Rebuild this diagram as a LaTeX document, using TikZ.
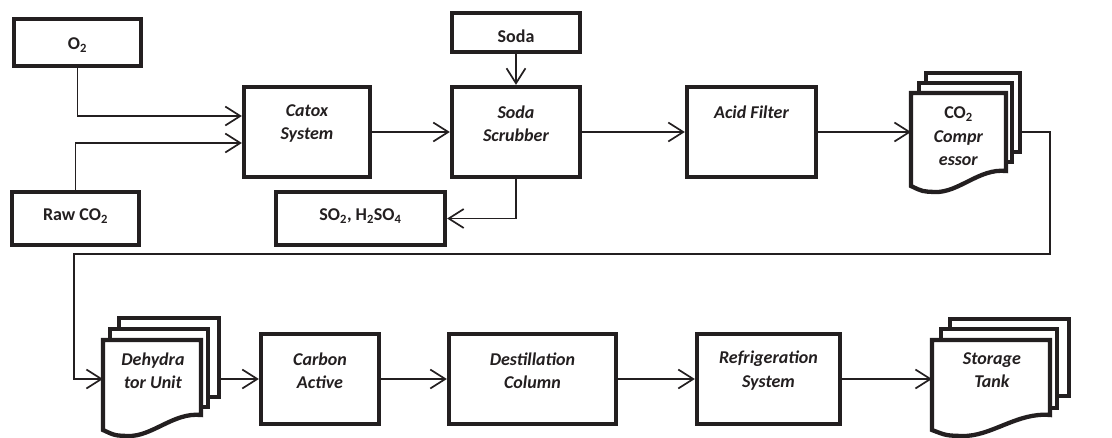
\documentclass[tikz,border=0pt]{standalone}
\usepackage{fontspec}
\setmainfont{Carlito}
\usetikzlibrary{arrows.meta}
\definecolor{ink}{HTML}{231F20}
\newcommand\docpage[4]{%
  \filldraw[docline] (#1,#2) -- (#1+#3,#2) -- (#1+#3,#2+#4)
    .. controls (#1+0.72*#3,#2+#4-3) and (#1+0.5*#3,#2+#4+22) .. (#1+0.25*#3,#2+#4+21)
    .. controls (#1+0.12*#3,#2+#4+20.5) .. (#1,#2+#4+15) -- cycle;}
\newcommand\backpage[4]{\filldraw[docline] (#1,#2) rectangle (#3,#4);}
\begin{document}
\begin{tikzpicture}[x=1pt,y=-1pt,
  box/.style={draw=ink,line width=4.3pt,fill=white,inner sep=0pt},
  docline/.style={draw=ink,fill=white,line width=4.3pt,line join=miter},
  lbl/.style={text=ink,align=center,inner sep=0pt,font=\fontsize{18}{23.5}\selectfont\bfseries},
  ilbl/.style={lbl,font=\fontsize{18}{23.5}\selectfont\bfseries\itshape},
  conn/.style={draw=ink,line width=1.7pt,-{Straight Barb[length=15pt,width=19pt,line width=1.7pt]}},
  plain/.style={draw=ink,line width=1.7pt}]
\useasboundingbox (0,0) rectangle (1112,437);

% top row boxes
\node[box,minimum width=127pt,minimum height=47pt] (o2) at (77.5,42.5) {};
\node[lbl] (o2t) at (77.5,45) {O\textsubscript{2}};
\node[box,minimum width=127pt,minimum height=53pt] (raw) at (75.5,218.5) {};
\node[lbl] (rawt) at (75.5,216) {Raw CO\textsubscript{2}};
\node[box,minimum width=126pt,minimum height=90pt] (catox) at (307,132) {};
\node[ilbl] (catoxt) at (307,123.5) {Catox\\System};
\node[box,minimum width=169pt,minimum height=53pt] (so2) at (360.5,218.5) {};
\node[lbl] (so2t) at (360.5,216) {SO\textsubscript{2}, H\textsubscript{2}SO\textsubscript{4}};
\node[box,minimum width=128pt,minimum height=39pt] (soda) at (516,32.5) {};
\node[lbl] (sodat) at (516,36) {Soda};
\node[box,minimum width=128pt,minimum height=90pt] (scrub) at (516,132) {};
\node[ilbl] (scrubt) at (516,123.5) {Soda\\Scrubber};
\node[box,minimum width=129pt,minimum height=90pt] (acid) at (751.5,132) {};
\node[ilbl] (acidt) at (751.5,112) {Acid Filter};

% CO2 compressor (multi-document)
\backpage{926}{73}{1020}{152}
\backpage{919}{83}{1012}{162}
\docpage{911}{93}{95}{78}
\node[lbl] (comp) at (958.5,136.5) {CO\textsubscript{2}\\\textit{Compr}\\\textit{essor}};
\coordinate (compin) at (911,132);
\coordinate (compout) at (1020,132);

% bottom row
\backpage{119}{318}{219}{397}
\backpage{110}{329}{208}{407}
\docpage{103}{340}{98}{75}
\node[ilbl] (deh) at (153,370.5) {Dehydra\\tor Unit};
\coordinate (dehin) at (103,379);
\coordinate (dehout) at (219,379);

\node[box,minimum width=118pt,minimum height=90pt] (carbon) at (320,379) {};
\node[ilbl] (carbont) at (320,370.5) {Carbon\\Active};
\node[box,minimum width=167pt,minimum height=90pt] (dest) at (532.5,379) {};
\node[ilbl] (destt) at (532.5,370.5) {Destillation\\Column};
\node[box,minimum width=143pt,minimum height=90pt] (refr) at (768.5,379) {};
\node[ilbl] (refrt) at (768.5,370.5) {Refrigeration\\System};

\backpage{950}{319}{1069}{396}
\backpage{941}{329}{1057}{408}
\docpage{932}{340}{118}{75}
\node[ilbl] (sto) at (992,370) {Storage\\Tank};
\coordinate (stoin) at (932,379);

% connectors
\draw[conn] (o2.south) |- ([yshift=16pt]catox.west);
\draw[conn] (raw.north) |- ([yshift=-11pt]catox.west);
\draw[conn] (catox.east) -- (scrub.west);
\draw[conn] (soda.south) -- (scrub.north);
\draw[conn] (scrub.south) |- (so2.east);
\draw[conn] (scrub.east) -- (acid.west);
\draw[conn] (acid.east) -- (compin);
\draw[conn] (compout) -- (1050,132) -- (1050,254) -- (74,254) -- (74,379) -- (dehin);
\draw[conn] (dehout) -- (carbon.west);
\draw[conn] (carbon.east) -- (dest.west);
\draw[conn] (dest.east) -- (refr.west);
\draw[conn] (refr.east) -- (stoin);
\end{tikzpicture}
\end{document}
